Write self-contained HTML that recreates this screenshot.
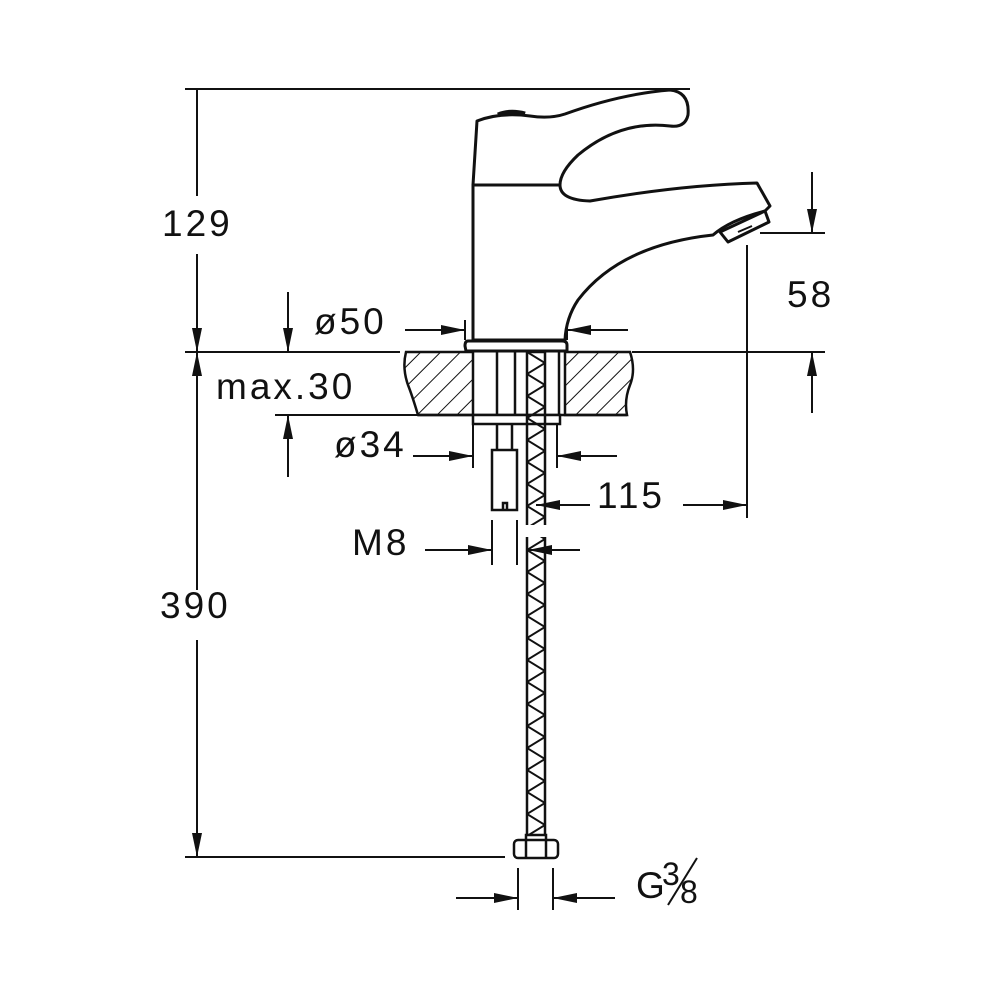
<!DOCTYPE html>
<html><head><style>html,body{margin:0;padding:0;background:#fff}svg{display:block}text{font-family:"Liberation Sans","DejaVu Sans",sans-serif;font-size:37px;fill:#111;letter-spacing:3px}</style></head>
<body>
<svg width="1000" height="1000" viewBox="0 0 1000 1000" xmlns="http://www.w3.org/2000/svg">
<defs>
<marker id="a" markerWidth="24" markerHeight="10" refX="24" refY="5" orient="auto" markerUnits="userSpaceOnUse"><path d="M0,0 L24,5 L0,10 Z" fill="#111"/></marker>
<pattern id="h" width="14" height="14" patternUnits="userSpaceOnUse" patternTransform="rotate(45)"><line x1="0" y1="0" x2="0" y2="14" stroke="#111" stroke-width="2"/></pattern>
<pattern id="b" width="18" height="22" patternUnits="userSpaceOnUse" patternTransform="translate(527,0)"><path d="M0,0 L18,11 L0,22" stroke="#111" stroke-width="2" fill="none"/></pattern>
</defs>
<g stroke="#111" stroke-width="2" fill="none">
<line x1="185" y1="89" x2="690" y2="89"/>
<line x1="185" y1="352" x2="400" y2="352"/>
<line x1="632" y1="352" x2="825" y2="352"/>
<line x1="760" y1="233" x2="825" y2="233"/>
<line x1="275" y1="415" x2="473" y2="415"/>
<line x1="185" y1="857" x2="505" y2="857"/>
<line x1="197" y1="89" x2="197" y2="196"/>
<line x1="197" y1="254" x2="197" y2="352" marker-end="url(#a)"/>
<line x1="197" y1="590" x2="197" y2="352" marker-end="url(#a)" />
<line x1="197" y1="640" x2="197" y2="857" marker-end="url(#a)"/>
<line x1="288" y1="292" x2="288" y2="352" marker-end="url(#a)"/>
<line x1="288" y1="477" x2="288" y2="415" marker-end="url(#a)"/>
<line x1="465" y1="320" x2="465" y2="340"/><line x1="567" y1="320" x2="567" y2="340"/>
<line x1="405" y1="330" x2="465" y2="330" marker-end="url(#a)"/>
<line x1="628" y1="330" x2="567" y2="330" marker-end="url(#a)"/>
<line x1="473" y1="425" x2="473" y2="468"/><line x1="557" y1="425" x2="557" y2="468"/>
<line x1="413" y1="456" x2="473" y2="456" marker-end="url(#a)"/>
<line x1="617" y1="456" x2="557" y2="456" marker-end="url(#a)"/>
<line x1="812" y1="172" x2="812" y2="233" marker-end="url(#a)"/>
<line x1="812" y1="413" x2="812" y2="352" marker-end="url(#a)"/>
<line x1="747" y1="245" x2="747" y2="518"/>
<line x1="683" y1="505" x2="747" y2="505" marker-end="url(#a)"/>
<line x1="590" y1="505" x2="536" y2="505" marker-end="url(#a)"/>
<line x1="492" y1="520" x2="492" y2="565"/><line x1="517" y1="520" x2="517" y2="565"/>
<line x1="425" y1="550" x2="492" y2="550" marker-end="url(#a)"/>
<line x1="580" y1="550" x2="528" y2="550" marker-end="url(#a)"/>
<line x1="518" y1="868" x2="518" y2="910"/><line x1="553" y1="868" x2="553" y2="910"/>
<line x1="456" y1="898" x2="518" y2="898" marker-end="url(#a)"/>
<line x1="615" y1="898" x2="553" y2="898" marker-end="url(#a)"/>
</g>
<g stroke="#111" stroke-width="2.5">
<path d="M406,352 L473,352 L473,415 L418,415 Q412,395 408,385 Q402,368 406,352 Z" fill="url(#h)"/>
<path d="M565,352 L630,352 Q636,370 630,385 Q624,400 627,415 L565,415 Z" fill="url(#h)"/>
<line x1="418" y1="415" x2="627" y2="415"/>
</g>
<g stroke="#111" stroke-width="3" fill="#fff" stroke-linejoin="round">
<path d="M477,121 Q500,112 530,116 Q550,119 565,114 Q620,94 670,90 Q690,92 688,115 Q685,128 670,126 Q620,120 578,155 Q560,172 560,185 L473,185 Z"/>
<path d="M498,115 Q510,110 525,114" stroke-width="5" fill="none"/>
<path d="M473,185 L560,185 Q560,200 590,201 Q680,185 757,183 L770,206 L765,211 Q730,220 713,235 Q620,245 578,300 Q566,318 565,340 L473,340 Z"/>
<path d="M720,232 L765,211 L769,222 L728,242 Z"/>
<path d="M738,232 L752,226" stroke-width="2"/>
<path d="M468,341 Q465,341 465,346 L466,351 L567,351 L567,345 Q567,341 562,341 Z"/>
</g>
<g stroke="#111" stroke-width="2.5" fill="#fff">
<line x1="497" y1="352" x2="497" y2="415"/>
<line x1="515" y1="352" x2="515" y2="415"/>
<line x1="559" y1="352" x2="559" y2="415"/>
<rect x="473" y="415" width="87" height="9"/>
<line x1="497" y1="424" x2="497" y2="450"/>
<line x1="512" y1="424" x2="512" y2="450"/>
<rect x="492" y="450" width="25" height="60"/>
<path d="M503,510 L503,503 L507,503 L507,510" fill="none"/>
<rect x="527" y="352" width="18" height="490" fill="url(#b)"/>
<rect x="526" y="835" width="20" height="8" fill="#fff"/>
<rect x="514" y="840" width="44" height="18" rx="4"/>
<line x1="526" y1="840" x2="526" y2="858"/><line x1="546" y1="840" x2="546" y2="858"/>
</g>
<rect x="520" y="525" width="40" height="12" fill="#fff"/>
<text x="162" y="236">129</text>
<text x="314" y="334">ø50</text>
<text x="216" y="399">max.30</text>
<text x="334" y="457">ø34</text>
<text x="597" y="508">115</text>
<text x="352" y="555">M8</text>
<text x="787" y="307">58</text>
<text x="160" y="618">390</text>
<text x="636" y="898">G</text>
<text x="662" y="885" style="font-size:32px;letter-spacing:0">3</text>
<line x1="668" y1="905" x2="697" y2="858" stroke="#111" stroke-width="2"/>
<text x="680" y="903" style="font-size:32px;letter-spacing:0">8</text>
</svg>
</body></html>
